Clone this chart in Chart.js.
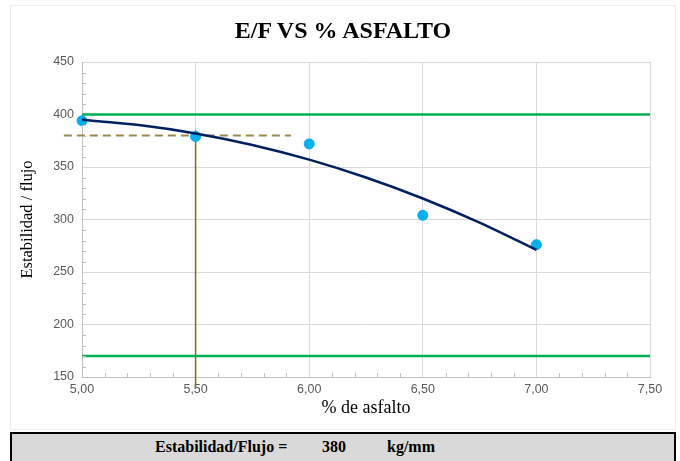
<!DOCTYPE html>
<html>
<head>
<meta charset="utf-8">
<script src="https://cdn.jsdelivr.net/npm/chart.js@4.4.1/dist/chart.umd.min.js"></script>
<style>
  body { margin: 0; background: #fff; }
  #wrap { position: relative; width: 680px; height: 461px; overflow: hidden; }
  #marco { position: absolute; left: 10px; top: 5px; width: 664px; height: 423px; border: 1px solid #ececec; }
  #titulo {
    position: absolute; left: 0; top: 17px; width: 686px; text-align: center;
    font-family: "Liberation Serif", serif; font-weight: bold; font-size: 24px; color: #000;
  }
  #chartBox { position: absolute; left: 0; top: 0; width: 680px; height: 430px; }
  #resultado {
    position: absolute; left: 10px; top: 432px; width: 662px; height: 30px;
    background: #d9d9d9; border: 2px solid #000;
    font-family: "Liberation Serif", serif; font-weight: bold; font-size: 16px;
    line-height: 25px; color: #000;
  }
  #resultado span { position: absolute; top: 0; }
</style>
</head>
<body>
<div id="wrap">
  <div id="marco"></div>
  <div id="chartBox"><canvas id="ctx_ef"></canvas></div>
  <div id="titulo">E/F VS % ASFALTO</div>
  <div id="resultado">
    <span style="left:143px">Estabilidad/Flujo =</span>
    <span style="left:310px">380</span>
    <span style="left:375px">kg/mm</span>
  </div>
</div>
<script>
// datos del ensayo
const asfalto = [5.0, 5.5, 6.0, 6.5, 7.0];
const estabFlujo = [394, 379, 372, 304, 276];

// linea de tendencia (polinomica)
const tendX = [5.0, 5.25, 5.5, 5.75, 6.0, 6.25, 6.5, 6.75, 7.0];
const tendY = [395, 390, 382, 371, 357, 340, 320, 297, 271];

// limites y valor de diseño
const limiteMax = 400;
const limiteMin = 170;
const asfaltoDiseno = 5.5;
const efDiseno = 380;
const guiaX = [4.92, 5.92];
const guiaY = [385, 141];

const toPts = (xs, ys) => xs.map((x, i) => ({ x: x, y: ys[i] }));

// ticks menores (cada 0,1 en x y cada 10 en y)
const minorTicks = {
  id: 'minorTicks',
  afterDraw(chart) {
    const { ctx, chartArea, scales } = chart;
    ctx.save();
    ctx.strokeStyle = '#bfbfbf';
    ctx.lineWidth = 1;
    ctx.beginPath();
    for (let v = 160; v < 450; v += 10) {
      if (v % 50 === 0) continue;
      const y = Math.round(scales.y.getPixelForValue(v)) + 0.5;
      ctx.moveTo(chartArea.left, y);
      ctx.lineTo(chartArea.left + 4, y);
    }
    for (let i = 1; i < 25; i++) {
      if (i % 5 === 0) continue;
      const x = Math.round(scales.x.getPixelForValue(5 + i * 0.1)) + 0.5;
      ctx.moveTo(x, chartArea.bottom);
      ctx.lineTo(x, chartArea.bottom - 4);
    }
    ctx.stroke();
    ctx.restore();
  }
};

new Chart(document.getElementById('ctx_ef').getContext('2d'), {
  type: 'scatter',
  data: {
    datasets: [
      {
        label: 'Tendencia',
        data: toPts(tendX, tendY),
        showLine: true,
        borderColor: '#002060',
        borderWidth: 2.5,
        pointRadius: 0,
        tension: 0.4,
        cubicInterpolationMode: 'monotone',
        clip: false,
        order: 0
      },
      {
        label: 'E/F',
        data: toPts(asfalto, estabFlujo),
        backgroundColor: '#00b0f0',
        borderColor: '#00b0f0',
        pointRadius: 5,
        clip: false,
        order: 1
      },
      {
        label: 'Max',
        data: [{ x: 5.0, y: limiteMax }, { x: 7.5, y: limiteMax }],
        showLine: true,
        borderColor: '#00b050',
        borderWidth: 2.5,
        pointRadius: 0,
        order: 2
      },
      {
        label: 'Min',
        data: [{ x: 5.0, y: limiteMin }, { x: 7.5, y: limiteMin }],
        showLine: true,
        borderColor: '#00b050',
        borderWidth: 2.5,
        pointRadius: 0,
        order: 2
      },
      {
        label: 'Horizontal',
        data: [{ x: guiaX[0], y: efDiseno }, { x: guiaX[1], y: efDiseno }],
        showLine: true,
        borderColor: '#9c8a4c',
        borderWidth: 1.8,
        borderDash: [8, 5],
        pointRadius: 0,
        clip: false,
        order: 3
      },
      {
        label: 'Vertical',
        data: [{ x: asfaltoDiseno, y: guiaY[0] }, { x: asfaltoDiseno, y: guiaY[1] }],
        showLine: true,
        borderColor: '#8b6914',
        borderWidth: 1.5,
        pointRadius: 0,
        clip: false,
        order: 3
      }
    ]
  },
  options: {
    responsive: true,
    maintainAspectRatio: false,
    animation: false,
    layout: { padding: { left: 10, right: 30, top: 62, bottom: 0 } },
    plugins: {
      legend: { display: false },
      tooltip: { enabled: false },
      title: { display: false }
    },
    scales: {
      x: {
        type: 'linear',
        min: 5.0,
        max: 7.5,
        afterFit: s => { s.height = 53; },
        ticks: {
          stepSize: 0.5,
          color: '#595959',
          font: { family: 'Liberation Sans', size: 12.5 },
          maxRotation: 0,
          padding: 5,
          callback: v => v.toFixed(2).replace('.', ',')
        },
        grid: { color: '#d9d9d9', drawTicks: false },
        border: { color: '#bfbfbf' },
        title: {
          display: true,
          text: '% de asfalto',
          color: '#000',
          font: { family: 'Liberation Serif', size: 18 },
          padding: { top: 11, bottom: 11 }
        }
      },
      y: {
        min: 150,
        max: 450,
        afterFit: s => { s.width = 72; },
        ticks: {
          stepSize: 50,
          color: '#595959',
          font: { family: 'Liberation Sans', size: 12.5 },
          padding: 8
        },
        grid: { color: '#d9d9d9', drawTicks: false },
        border: { color: '#bfbfbf' },
        title: {
          display: true,
          text: 'Estabilidad / flujo',
          color: '#000',
          font: { family: 'Liberation Serif', size: 16.5 },
          padding: { top: 8, bottom: 8 }
        }
      }
    }
  },
  plugins: [minorTicks]
});
</script>
</body>
</html>
